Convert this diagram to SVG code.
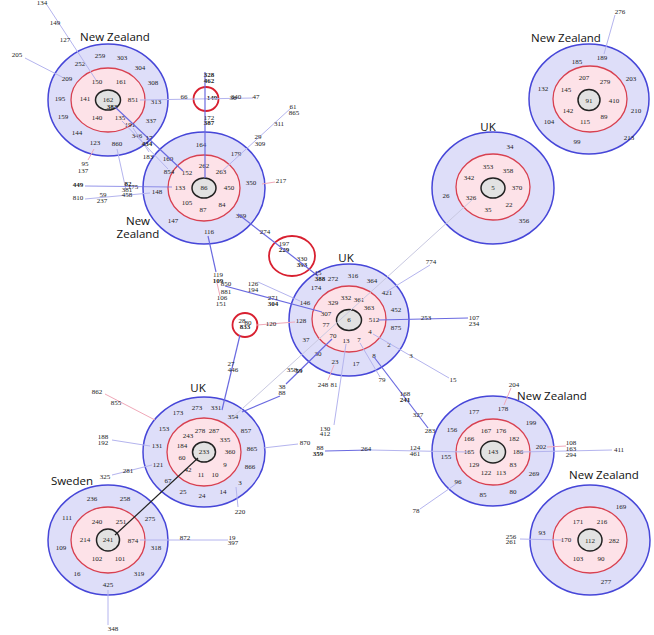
<svg xmlns="http://www.w3.org/2000/svg" width="654" height="635" viewBox="0 0 654 635">
<style>
.o{fill:#dedef9;stroke:#4646d8;stroke-width:1.5}
.r{fill:#fde2e8;stroke:#d84050;stroke-width:1.3}
.c{fill:#e2e2e2;stroke:#222;stroke-width:1.5}
.sr{fill:none;stroke:#d82030;stroke-width:1.8}
text{font-family:"Liberation Serif","Times New Roman",serif;font-size:7px;fill:#222;text-anchor:middle}
.b{font-weight:bold}
.t{font-family:"Open Sans","Liberation Sans",sans-serif;font-size:11.5px;fill:#111}
.l{stroke:#b4b4ee;stroke-width:1;fill:none}
.u{stroke:#6a6ae0;stroke-width:1.2;fill:none}
.p{stroke:#f0a8b8;stroke-width:1;fill:none}
.k{stroke:#222;stroke-width:1.2;fill:none}
.g{stroke:#c8c8e0;stroke-width:1;fill:none}
</style>
<rect width="654" height="635" fill="#fff"/>

<g id="nz1">
<ellipse class="o" cx="108" cy="100" rx="60" ry="56"/>
<ellipse class="r" cx="108" cy="100" rx="37" ry="32"/>
<ellipse class="c" cx="108" cy="100" rx="12.5" ry="10"/>
<text class="t" x="115" y="41">New Zealand</text>
<text x="100" y="58">259</text><text x="122" y="60">303</text><text x="140" y="70">304</text><text x="153" y="85">308</text>
<text x="156" y="104">313</text><text x="151" y="123">337</text><text x="137" y="138">346</text><text x="117" y="146">860</text>
<text x="95" y="145">123</text><text x="77" y="135">144</text><text x="63" y="119">159</text><text x="60" y="101">195</text>
<text x="67" y="81">209</text><text x="80" y="66">252</text><text x="97" y="84">150</text><text x="121" y="84">161</text>
<text x="133" y="102">851</text><text x="130" y="127">191</text><text x="120" y="120">135</text><text x="97" y="120">140</text>
<text x="85" y="101">141</text><text x="108" y="102">162</text><text class="b" x="112" y="109">383</text>
</g>

<g id="nz2">
<ellipse class="o" cx="204" cy="188" rx="61" ry="56"/>
<ellipse class="r" cx="204" cy="188" rx="36" ry="33"/>
<ellipse class="c" cx="204" cy="188" rx="12" ry="10"/>
<text class="t" x="138" y="225">New</text><text class="t" x="138" y="238">Zealand</text>
<text x="201" y="147">164</text><text x="236" y="156">179</text><text x="168" y="161">160</text><text x="204" y="168">262</text>
<text x="221" y="174">263</text><text x="169" y="174">854</text><text x="187" y="175">152</text><text x="180" y="190">133</text>
<text x="204" y="190">86</text><text x="229" y="190">450</text><text x="251" y="185">350</text><text x="157" y="194">148</text>
<text x="187" y="205">105</text><text x="222" y="207">84</text><text x="203" y="212">87</text><text x="173" y="223">147</text>
<text x="241" y="218">369</text><text x="209" y="234">116</text>
</g>

<g id="nz3">
<ellipse class="o" cx="589" cy="99" rx="60" ry="55"/>
<ellipse class="r" cx="590" cy="99" rx="37" ry="33"/>
<ellipse class="c" cx="589" cy="100" rx="11" ry="10.5"/>
<text class="t" x="566" y="42">New Zealand</text>
<text x="602" y="60">189</text><text x="577" y="64">185</text><text x="543" y="91">132</text><text x="584" y="80">207</text>
<text x="605" y="84">279</text><text x="631" y="81">203</text><text x="566" y="92">145</text><text x="589" y="103">91</text>
<text x="614" y="103">410</text><text x="636" y="113">210</text><text x="568" y="113">142</text><text x="585" y="124">115</text>
<text x="604" y="119">89</text><text x="549" y="124">104</text><text x="629" y="140">213</text><text x="577" y="144">99</text>
</g>

<g id="uk1">
<ellipse class="o" cx="493" cy="188" rx="61" ry="56"/>
<ellipse class="r" cx="493" cy="187" rx="37" ry="33"/>
<ellipse class="c" cx="493" cy="188" rx="12" ry="10"/>
<text class="t" x="488" y="131">UK</text>
<text x="510" y="149">34</text><text x="488" y="169">353</text><text x="508" y="173">358</text><text x="469" y="180">342</text>
<text x="493" y="190">5</text><text x="517" y="190">370</text><text x="446" y="198">26</text><text x="471" y="200">326</text>
<text x="509" y="207">22</text><text x="488" y="212">35</text><text x="524" y="223">356</text>
</g>

<g id="uk2">
<ellipse class="o" cx="349" cy="320" rx="60" ry="56"/>
<ellipse class="r" cx="349" cy="319" rx="37" ry="33"/>
<ellipse class="c" cx="349" cy="320" rx="12.5" ry="10.5"/>
<text class="t" x="346" y="262">UK</text>
<text x="333" y="281">272</text><text class="b" x="320" y="281">388</text><text x="353" y="278">316</text><text x="372" y="283">364</text>
<text x="316" y="290">174</text><text x="387" y="295">421</text><text x="346" y="300">332</text><text x="359" y="302">361</text>
<text x="333" y="305">329</text><text x="369" y="310">363</text><text x="396" y="312">452</text><text x="305" y="305">146</text>
<text x="326" y="316">307</text><text x="374" y="322">512</text><text x="349" y="322">6</text><text x="301" y="323">128</text>
<text x="396" y="330">875</text><text x="326" y="327">77</text><text x="370" y="334">4</text><text x="333" y="338">70</text>
<text x="346" y="343">13</text><text x="359" y="342">7</text><text x="306" y="342">37</text><text x="389" y="347">2</text>
<text x="374" y="358">8</text><text x="318" y="356">30</text><text x="335" y="364">23</text><text x="356" y="366">17</text>
</g>

<g id="nz4">
<ellipse class="o" cx="493" cy="451" rx="61" ry="55"/>
<ellipse class="r" cx="493" cy="452" rx="37" ry="33"/>
<ellipse class="c" cx="493" cy="452" rx="12.5" ry="11"/>
<text class="t" x="552" y="400">New Zealand</text>
<text x="474" y="414">177</text><text x="503" y="411">178</text><text x="531" y="425">199</text><text x="452" y="432">156</text>
<text x="486" y="433">167</text><text x="501" y="433">176</text><text x="514" y="441">182</text><text x="469" y="441">166</text>
<text x="541" y="449">202</text><text x="446" y="459">155</text><text x="469" y="454">165</text><text x="493" y="454">143</text>
<text x="518" y="454">186</text><text x="474" y="467">129</text><text x="513" y="467">83</text><text x="534" y="476">269</text>
<text x="486" y="475">122</text><text x="501" y="475">113</text><text x="458" y="484">96</text><text x="483" y="497">85</text>
<text x="513" y="494">80</text>
</g>

<g id="uk3">
<ellipse class="o" cx="204" cy="452" rx="61" ry="55"/>
<ellipse class="r" cx="204" cy="452" rx="37" ry="34"/>
<ellipse class="c" cx="204" cy="452" rx="11.5" ry="10"/>
<text class="t" x="198" y="392">UK</text>
<text x="178" y="415">173</text><text x="197" y="410">273</text><text x="216" y="410">331</text><text x="233" y="419">354</text>
<text x="164" y="431">153</text><text x="200" y="433">278</text><text x="214" y="433">287</text><text x="188" y="438">243</text>
<text x="246" y="433">857</text><text x="225" y="442">335</text><text x="182" y="448">184</text><text x="157" y="448">131</text>
<text x="252" y="451">865</text><text x="230" y="454">360</text><text x="204" y="454">233</text><text x="182" y="460">60</text>
<text x="225" y="467">9</text><text x="250" y="469">866</text><text x="158" y="467">121</text><text x="188" y="472">42</text>
<text x="201" y="477">11</text><text x="215" y="477">10</text><text x="240" y="485">3</text><text x="168" y="483">67</text>
<text x="183" y="494">25</text><text x="202" y="498">24</text><text x="223" y="494">14</text>
</g>

<g id="sweden">
<ellipse class="o" cx="108" cy="540" rx="60" ry="55"/>
<ellipse class="r" cx="108" cy="540" rx="37" ry="33"/>
<ellipse class="c" cx="108" cy="540" rx="11.5" ry="11"/>
<text class="t" x="72" y="485">Sweden</text>
<text x="92" y="501">236</text><text x="125" y="501">258</text><text x="67" y="520">111</text><text x="97" y="524">240</text>
<text x="121" y="524">251</text><text x="150" y="521">275</text><text x="85" y="542">214</text><text x="108" y="542">241</text>
<text x="133" y="543">874</text><text x="61" y="550">109</text><text x="156" y="550">318</text><text x="97" y="561">102</text>
<text x="120" y="561">101</text><text x="77" y="576">16</text><text x="139" y="576">319</text><text x="108" y="587">425</text>
</g>

<g id="nz5">
<ellipse class="o" cx="590" cy="540" rx="60" ry="55"/>
<ellipse class="r" cx="590" cy="540" rx="37" ry="33"/>
<ellipse class="c" cx="590" cy="540" rx="12" ry="11"/>
<text class="t" x="604" y="479">New Zealand</text>
<text x="621" y="509">169</text><text x="578" y="524">171</text><text x="602" y="524">216</text><text x="542" y="535">93</text>
<text x="566" y="542">170</text><text x="590" y="543">112</text><text x="614" y="543">282</text><text x="578" y="561">103</text>
<text x="601" y="561">90</text><text x="606" y="584">277</text>
</g>

<g id="hub1">
<ellipse class="sr" cx="206" cy="99" rx="12.5" ry="12"/>
<text class="b" x="212" y="100">149</text>
</g>
<g id="hub2">
<ellipse class="sr" cx="292" cy="256" rx="23" ry="20"/>
<text x="284" y="246">197</text><text class="b" x="284" y="252">229</text><text x="302" y="261">330</text><text class="b" x="302" y="267">393</text>
</g>
<g id="hub3">
<ellipse class="sr" cx="245" cy="325" rx="12.5" ry="12"/>
<text x="242" y="323">28</text><text x="248" y="325">80</text><text class="b" x="245" y="329">833</text>
</g>

<g id="connectors">
<line class="l" x1="47" y1="5" x2="96" y2="80"/>
<line class="l" x1="25" y1="58" x2="62" y2="77"/>
<line class="p" x1="88" y1="160" x2="94" y2="149"/>
<line class="l" x1="140" y1="100" x2="253" y2="98"/>
<line class="u" x1="205" y1="72" x2="205" y2="178"/>
<line class="u" x1="115" y1="107" x2="183" y2="171"/>
<line class="l" x1="122" y1="121" x2="168" y2="169"/>
<line class="l" x1="133" y1="128" x2="149" y2="152"/>
<line class="l" x1="117" y1="149" x2="126" y2="190"/>
<line class="u" x1="85" y1="186" x2="172" y2="187" stroke-opacity="0.7"/>
<line class="l" x1="85" y1="199" x2="150" y2="193"/>
<line class="l" x1="221" y1="172" x2="291" y2="108"/>
<line class="p" x1="262" y1="184" x2="275" y2="182"/>
<line class="u" x1="208" y1="236" x2="216" y2="272"/>
<line class="p" x1="217" y1="283" x2="220" y2="296"/>
<line class="u" x1="238" y1="214" x2="318" y2="276"/>
<line class="u" x1="225" y1="286" x2="322" y2="312"/>
<line class="l" x1="258" y1="282" x2="300" y2="301"/>
<line class="p" x1="257" y1="325" x2="295" y2="322"/>
<line class="u" x1="240" y1="335" x2="222" y2="410"/>
<line class="u" x1="378" y1="320" x2="468" y2="318"/>
<line class="l" x1="373" y1="334" x2="449" y2="378"/>
<line class="l" x1="360" y1="343" x2="380" y2="377"/>
<line class="u" x1="374" y1="357" x2="428" y2="428"/>
<line class="l" x1="346" y1="344" x2="334" y2="425"/>
<line class="u" x1="332" y1="339" x2="286" y2="384"/>
<line class="u" x1="280" y1="396" x2="242" y2="412"/>
<line class="g" x1="472" y1="200" x2="232" y2="418"/>
<line class="l" x1="430" y1="265" x2="386" y2="292"/>
<line class="p" x1="334" y1="365" x2="328" y2="380"/>
<line class="l" x1="263" y1="448" x2="298" y2="444"/>
<line class="u" x1="325" y1="451" x2="370" y2="450" stroke-width="2"/>
<line class="l" x1="370" y1="450" x2="468" y2="452"/>
<line class="p" x1="504" y1="405" x2="511" y2="388"/>
<line class="l" x1="520" y1="452" x2="612" y2="450"/>
<line class="p" x1="547" y1="447" x2="566" y2="446"/>
<line class="l" x1="456" y1="484" x2="420" y2="509"/>
<line class="p" x1="105" y1="394" x2="155" y2="420"/>
<line class="l" x1="112" y1="440" x2="150" y2="446"/>
<line class="l" x1="112" y1="475" x2="152" y2="465"/>
<line class="l" x1="236" y1="487" x2="238" y2="507"/>
<line class="k" x1="198" y1="458" x2="115" y2="535"/>
<line class="l" x1="140" y1="540" x2="228" y2="540"/>
<line class="l" x1="108" y1="590" x2="108" y2="625"/>
<line class="l" x1="615" y1="15" x2="604" y2="54"/>
<line class="l" x1="520" y1="539" x2="562" y2="540"/>
</g>

<g id="labels">
<text x="42" y="5">134</text><text x="55" y="25">149</text><text x="65" y="42">127</text><text x="17" y="57">205</text>
<text x="85" y="166">95</text><text x="83" y="173">137</text><text x="149" y="140">17</text><text class="b" x="147" y="146">434</text>
<text x="148" y="159">183</text>
<text class="b" x="78" y="187">449</text><text x="78" y="200">810</text><text x="103" y="197">59</text><text x="102" y="203">237</text>
<text class="b" x="128" y="186">82</text><text x="133" y="189">175</text><text x="127" y="192">381</text><text x="127" y="197">458</text>
<text x="281" y="183">217</text><text x="258" y="139">29</text><text x="260" y="146">309</text><text x="279" y="126">311</text>
<text x="293" y="109">61</text><text x="294" y="115">865</text>
<text class="b" x="209" y="77">328</text><text class="b" x="209" y="83">462</text><text x="184" y="99">66</text>
<text x="236" y="99">340</text><text x="233" y="100">36</text><text x="256" y="99">47</text>
<text x="209" y="120">172</text><text class="b" x="209" y="125">387</text>
<text x="620" y="14">276</text>
<text x="265" y="234">274</text>
<text x="218" y="277">119</text><text class="b" x="218" y="283">109</text><text x="226" y="286">850</text><text x="226" y="294">881</text>
<text x="222" y="300">106</text><text x="221" y="306">151</text>
<text x="253" y="286">126</text><text x="253" y="292">194</text><text x="273" y="300">271</text><text class="b" x="273" y="306">304</text>
<text x="318" y="275">15</text><text x="271" y="326">120</text>
<text x="431" y="264">774</text><text x="426" y="320">253</text><text x="474" y="320">107</text><text x="474" y="326">234</text>
<text x="411" y="358">3</text><text x="453" y="382">15</text><text x="382" y="382">79</text>
<text x="323" y="387">248</text><text x="334" y="387">81</text>
<text x="292" y="372">358</text><text class="b" x="299" y="373">59</text>
<text x="282" y="389">38</text><text x="282" y="395">88</text>
<text x="405" y="396">168</text><text class="b" x="405" y="402">241</text><text x="418" y="417">327</text>
<text x="231" y="366">27</text><text x="233" y="372">446</text>
<text x="325" y="431">130</text><text x="325" y="436">412</text><text x="430" y="433">283</text>
<text x="305" y="445">870</text><text x="320" y="450">88</text><text class="b" x="318" y="456">359</text>
<text x="366" y="451">264</text><text x="415" y="450">124</text><text x="415" y="456">461</text>
<text x="514" y="387">204</text><text x="571" y="445">108</text><text x="571" y="451">163</text><text x="571" y="457">294</text>
<text x="619" y="452">411</text><text x="416" y="513">78</text>
<text x="97" y="394">862</text><text x="116" y="405">855</text><text x="103" y="439">188</text><text x="103" y="445">192</text>
<text x="128" y="473">281</text><text x="105" y="479">325</text><text x="240" y="514">220</text>
<text x="185" y="540">872</text><text x="232" y="540">19</text><text x="233" y="545">397</text><text x="113" y="631">348</text>
<text x="511" y="539">256</text><text x="511" y="544">261</text>
</g>
</svg>
